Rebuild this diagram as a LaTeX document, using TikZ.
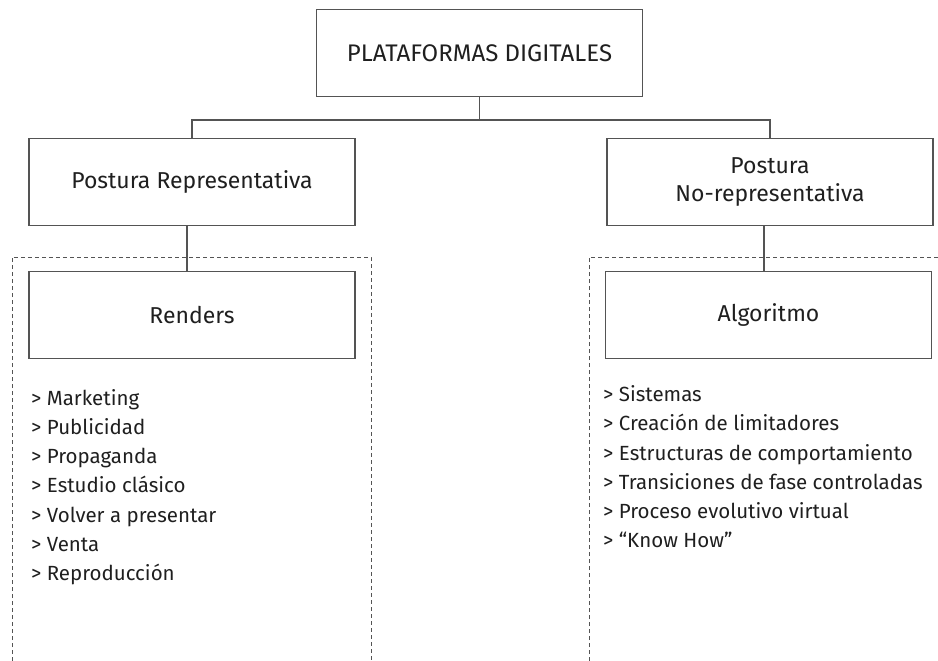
\documentclass[tikz,border=0pt]{standalone}
\usepackage{fontspec}
\setmainfont{Fira Sans}
\usetikzlibrary{positioning}

\definecolor{linea}{gray}{0.33}
\definecolor{texto}{gray}{0.12}

\tikzset{
  caja/.style={draw=linea, line width=1.1pt, minimum width=326pt,
    minimum height=87pt, inner sep=0pt, text=texto, font=\fontsize{23}{28}\selectfont,
    align=center},
  punto/.style={anchor=base west, inner sep=0pt, text=texto,
    font=\fontsize{20.5}{24}\selectfont},
  marco/.style={draw=linea, dashed, line width=0.7pt, dash pattern=on 4pt off 3pt}
}

\begin{document}
\begin{tikzpicture}
[x=1pt,y=-1pt]
\useasboundingbox (0,0) rectangle (938,661);

\node[caja, font=\fontsize{24}{28}\selectfont] (plat) at (479.5,53) {PLATAFORMAS DIGITALES};
\node[caja] (rep) at (192,182) {Postura Representativa};
\node[caja] (norep) at (770,182) {Postura\\No-representativa};
\node[caja] (renders) at (192,315) {Renders};
\node[caja] (algo) at (768.5,315) {Algoritmo};

\coordinate (junta) at (479.5,120);
\draw[linea, line width=1.1pt] (plat) -- (junta);
\draw[linea, line width=1.1pt] (junta) -| (rep);
\draw[linea, line width=1.1pt] (junta) -| (norep);
\draw[linea, line width=1.1pt] ([xshift=-5pt]rep.south) -- ([xshift=-5pt]renders.north);
\draw[linea, line width=1.1pt] ([xshift=-6pt]norep.south) -- ([xshift=-4.5pt]algo.north);

% marcos punteados
\draw[marco] (12,661) -- (12,257) -- (371,257) -- (371,661);
\draw[marco] (589,661) -- (589,257) -- (938,257);

\foreach \t [count=\i] in {Marketing, Publicidad, Propaganda, Estudio clásico,
  Volver a presentar, Venta, Reproducción}
  \node[punto] (ren\i) at (31,405+29.3*\i-29.3) {> \t};

\foreach \t [count=\i] in {Sistemas, Creación de limitadores,
  Estructuras de comportamiento, Transiciones de fase controladas,
  Proceso evolutivo virtual, “Know How”}
  \node[punto] (alg\i) at (603,401.7+29.2*\i-29.2) {> \t};
\end{tikzpicture}
\end{document}
